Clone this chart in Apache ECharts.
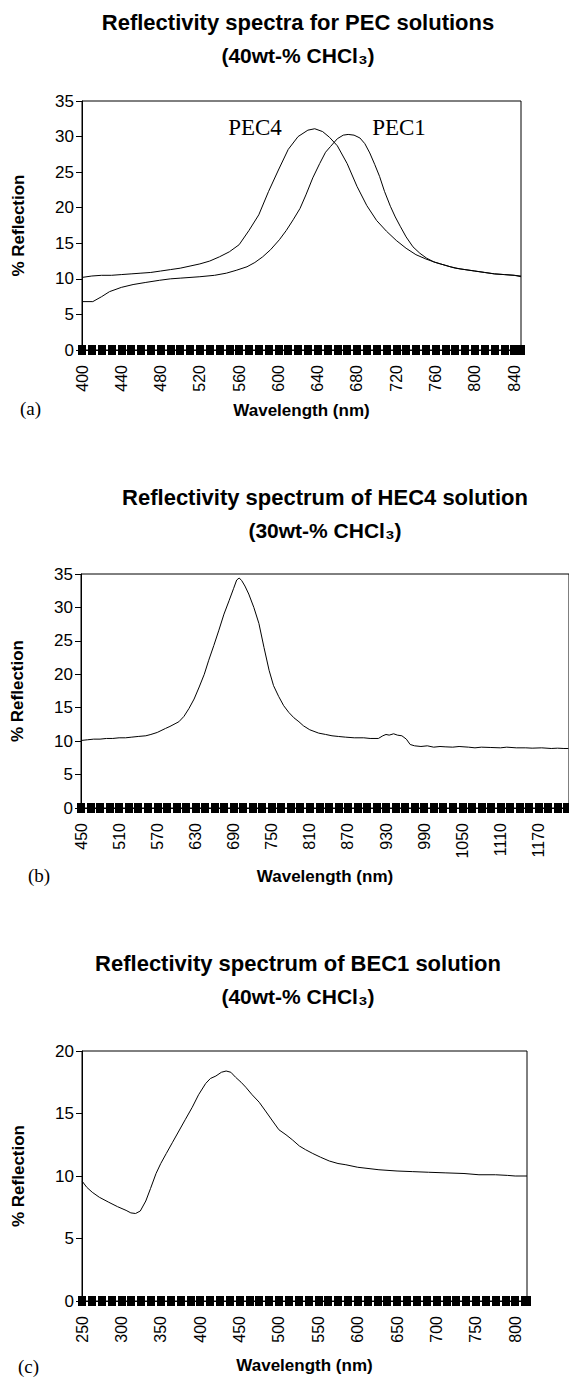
<!DOCTYPE html>
<html><head><meta charset="utf-8">
<script src="https://cdn.jsdelivr.net/npm/echarts@6/dist/echarts.min.js"></script>
<style>html,body{margin:0;padding:0;background:#fff}#c{width:569px;height:1383px}</style>
</head><body><div id="c"></div>
<script>
// ---------- DATA ----------
// (a) PEC solutions, 40wt-% CHCl3
const pec4Wl  = [400,410,420,430,440,450,460,470,480,490,500,510,520,530,540,550,560,570,580,590,600,610,620,630,637,645,652,660,670,680,690,700,710,720,730,740,750,760,770,780,790,800,810,820,830,840,847];
const pec4Val = [10.2,10.4,10.5,10.5,10.6,10.7,10.8,10.9,11.1,11.3,11.5,11.8,12.1,12.5,13.1,13.8,14.8,16.8,19.0,22.3,25.3,28.2,30.0,30.9,31.1,30.7,29.9,28.7,26.2,23.0,20.3,18.2,16.7,15.4,14.3,13.4,12.8,12.3,11.9,11.5,11.3,11.1,10.9,10.7,10.6,10.5,10.3];
const pec1Wl  = [400,411,420,428,440,452,465,479,490,500,520,535,547,557,568,576,584,592,601,608,615,622,628,635,642,648,653,660,666,671,677,683,688,693,698,703,708,714,719,724,730,737,744,751,758,765,775,785,800,810,820,830,840,847];
const pec1Val = [6.8,6.8,7.5,8.2,8.8,9.2,9.5,9.8,10.0,10.1,10.3,10.5,10.8,11.2,11.7,12.3,13.1,14.1,15.5,16.8,18.3,19.9,21.8,24.2,26.2,27.8,28.6,29.7,30.2,30.3,30.2,29.8,29.0,27.7,26.1,24.4,22.3,20.2,18.7,17.4,15.9,14.5,13.6,12.9,12.4,12.1,11.7,11.4,11.1,10.9,10.7,10.6,10.5,10.4];
const ticksA = [400,440,480,520,560,600,640,680,720,760,800,840];

// (b) HEC4 solution, 30wt-% CHCl3
const hec4Wl  = [450,460,470,480,490,500,510,520,530,540,552,560,570,583,590,598,604,612,620,628,636,644,651,659,667,675,683,690,695,699,703,708,714,722,730,738,746,753,761,769,777,785,793,800,810,824,835,845,855,866,880,895,905,918,925,930,935,942,948,955,962,968,975,985,995,1005,1015,1023,1035,1045,1060,1070,1080,1095,1110,1120,1135,1150,1160,1175,1190,1200,1210,1217];
const hec4Val = [10.1,10.2,10.3,10.3,10.4,10.4,10.5,10.5,10.6,10.7,10.8,11.0,11.3,11.9,12.2,12.6,12.9,13.7,14.9,16.3,18.1,20.0,22.1,24.3,26.6,29.0,31.0,32.8,34.1,34.4,34.0,33.2,32.0,30.0,27.6,24.0,20.6,18.3,16.7,15.3,14.3,13.5,12.9,12.3,11.7,11.2,11.0,10.8,10.7,10.6,10.5,10.5,10.4,10.4,10.8,11.0,10.9,11.1,10.9,10.8,10.3,9.5,9.3,9.2,9.3,9.1,9.2,9.15,9.1,9.2,9.1,9.0,9.1,9.05,9.0,9.1,9.0,9.0,8.95,9.0,8.9,8.95,8.9,8.9];
const ticksB = [450,510,570,630,690,750,810,870,930,990,1050,1110,1170];

// (c) BEC1 solution, 40wt-% CHCl3
const bec1Wl  = [250,256,263,272,284,295,306,312,318,324,331,337,344,350,357,365,373,381,390,398,407,413,420,427,433,439,445,452,458,466,475,483,492,500,509,517,526,534,543,553,564,575,585,600,627,650,670,690,712,735,754,775,790,800,815];
const bec1Val = [9.6,9.1,8.7,8.3,7.9,7.55,7.25,7.05,7.0,7.2,8.0,9.0,10.2,11.0,11.8,12.7,13.6,14.5,15.5,16.5,17.4,17.8,18.0,18.3,18.4,18.3,17.9,17.5,17.1,16.5,15.9,15.2,14.4,13.7,13.3,12.9,12.4,12.1,11.8,11.5,11.2,11.0,10.9,10.7,10.5,10.4,10.35,10.3,10.25,10.2,10.1,10.1,10.05,10.0,10.0];
const ticksC = [250,300,350,400,450,500,550,600,650,700,750,800];

const yTicksAB = [0,5,10,15,20,25,30,35];
const yTicksC  = [0,5,10,15,20];

// ---------- CHART ----------
const SANS = 'Liberation Sans, Arial, sans-serif';
const SERIF = 'Liberation Serif, Times New Roman, serif';
const zip = (a, b) => a.map((x, i) => [x, b[i]]);

function xAxesFor(gi, ticks, max, nameGap) {
  const base = {
    type: 'value', gridIndex: gi, min: ticks[0], max: max,
    interval: ticks[1] - ticks[0], position: 'bottom',
    splitLine: { show: false }, minorSplitLine: { show: false }
  };
  return [
    Object.assign({}, base, {
      axisLine: { show: true, onZero: false, lineStyle: { color: '#000', width: 1 } },
      axisTick: { show: true, inside: false, length: 5, lineStyle: { color: '#000', width: 8 } },
      minorTick: { show: true, splitNumber: 4, length: 5, lineStyle: { color: '#000', width: 8 } },
      axisLabel: { rotate: 90, margin: 15, color: '#000', fontFamily: SANS, fontSize: 16,
        showMaxLabel: false,
        formatter: v => ticks.indexOf(v) >= 0 ? String(v) : '' },
      name: 'Wavelength (nm)', nameLocation: 'middle', nameGap: nameGap,
      nameTextStyle: { color: '#000', fontFamily: SANS, fontWeight: 'bold', fontSize: 17 }
    }),
    Object.assign({}, base, {
      axisLine: { show: false },
      axisTick: { show: true, inside: true, length: 5, lineStyle: { color: '#000', width: 8 } },
      minorTick: { show: true, splitNumber: 4, length: 5, lineStyle: { color: '#000', width: 8 } },
      axisLabel: { show: false }
    })
  ];
}
function yAxisFor(gi, ticks) {
  return {
    type: 'value', gridIndex: gi, min: ticks[0], max: ticks[ticks.length - 1],
    interval: ticks[1] - ticks[0],
    axisLine: { show: true, lineStyle: { color: '#000', width: 1 } },
    axisTick: { show: true, inside: false, length: 6, lineStyle: { color: '#000', width: 1 } },
    axisLabel: { color: '#000', fontFamily: SANS, fontSize: 17, margin: 8 },
    splitLine: { show: false },
    name: '% Reflection', nameLocation: 'middle', nameGap: 55, nameRotate: 90,
    nameTextStyle: { color: '#000', fontFamily: SANS, fontWeight: 'bold', fontSize: 17 }
  };
}
const lineStyle = { color: '#000', width: 1 };
function ser(xi, yi, wl, val, name) {
  return { type: 'line', name: name, xAxisIndex: xi, yAxisIndex: yi, data: zip(wl, val),
    showSymbol: false, symbol: 'none', lineStyle: lineStyle, silent: true, animation: false };
}
function txt(x, y, text, font, align) {
  return { type: 'text', x: x, y: y, silent: true,
    style: { text: text, font: font, fill: '#000', textAlign: align || 'center', align: align || 'center',
      textVerticalAlign: 'middle', verticalAlign: 'middle' } };
}
const gridStyle = { show: true, borderColor: '#000', borderWidth: 1, backgroundColor: 'transparent', containLabel: false };

const chart = echarts.init(document.getElementById('c'), null, { renderer: 'svg' });
chart.setOption({
  animation: false,
  backgroundColor: '#fff',
  grid: [
    Object.assign({ left: 82, right: 48, top: 101, height: 249 }, gridStyle),
    Object.assign({ left: 81, right: -4, top: 574, height: 234 }, gridStyle),
    Object.assign({ left: 82, right: 42, top: 1051, height: 250 }, gridStyle)
  ],
  xAxis: [].concat(
    xAxesFor(0, ticksA, 847, 52),
    xAxesFor(1, ticksB, 1218, 60),
    xAxesFor(2, ticksC, 815, 56)
  ),
  yAxis: [yAxisFor(0, yTicksAB), yAxisFor(1, yTicksAB), yAxisFor(2, yTicksC)],
  series: [
    ser(0, 0, pec4Wl, pec4Val, 'PEC4'),
    ser(0, 0, pec1Wl, pec1Val, 'PEC1'),
    ser(2, 1, hec4Wl, hec4Val, 'HEC4'),
    ser(4, 2, bec1Wl, bec1Val, 'BEC1')
  ],
  graphic: [
    txt(298, 22, 'Reflectivity spectra for PEC solutions', 'bold 22px ' + SANS),
    txt(298, 55, '(40wt-% CHCl\u2083)', 'bold 21px ' + SANS),
    txt(325, 497, 'Reflectivity spectrum of HEC4 solution', 'bold 22px ' + SANS),
    txt(325, 530, '(30wt-% CHCl\u2083)', 'bold 21px ' + SANS),
    txt(298, 963, 'Reflectivity spectrum of BEC1 solution', 'bold 22px ' + SANS),
    txt(298, 996, '(40wt-% CHCl\u2083)', 'bold 21px ' + SANS),
    txt(255, 127, 'PEC4', '23px ' + SERIF),
    txt(399, 127, 'PEC1', '23px ' + SERIF),
    txt(20, 408, '(a)', '19px ' + SERIF, 'left'),
    txt(28, 875, '(b)', '19px ' + SERIF, 'left'),
    txt(18, 1366, '(c)', '19px ' + SERIF, 'left')
  ]
});
</script>
</body></html>
